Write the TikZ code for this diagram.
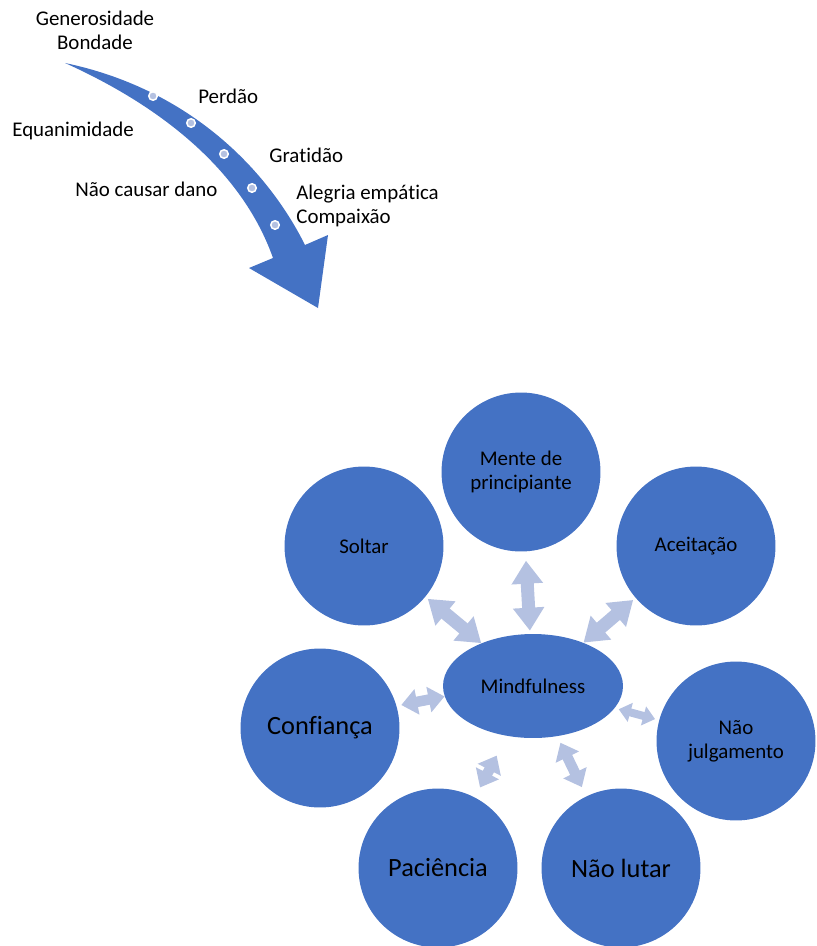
\documentclass[tikz,border=0pt]{standalone}
\usepackage{fontspec}
\setmainfont{Carlito}[Ligatures=NoCommon]
\usetikzlibrary{arrows.meta,shapes.geometric}
\definecolor{ablue}{RGB}{68,114,196}
\definecolor{alight}{RGB}{180,193,225}
\newcommand{\smalltxt}{\fontsize{11.9}{13.6}\selectfont}
\newcommand{\bigtxt}{\fontsize{15}{17}\selectfont}

\begin{document}
\begin{tikzpicture}[x=0.02cm,y=-0.02cm,
  virtue/.style={circle,fill=ablue,minimum size=3.18cm,inner sep=0pt,align=center,font=\smalltxt},
  bigvirtue/.style={virtue,font=\bigtxt},
  core/.style={ellipse,fill=ablue,minimum width=3.6cm,minimum height=2.08cm,inner sep=0pt,font=\smalltxt},
  quality/.style={inner sep=0pt,font=\smalltxt},
  biglink/.style={draw=alight,line width=0.26cm,{Triangle[length=0.46cm,width=0.6cm]}-{Triangle[length=0.46cm,width=0.6cm]}},
  midlink/.style={draw=alight,line width=0.21cm,{Triangle[length=0.32cm,width=0.5cm]}-{Triangle[length=0.32cm,width=0.5cm]}},
  smalllink/.style={draw=alight,line width=0.16cm,{Triangle[length=0.24cm,width=0.38cm]}-{Triangle[length=0.24cm,width=0.38cm]}}]
\useasboundingbox (0,0) rectangle (816,946);
%%%%%%%%%%%%%%%%%%%%%%%%%%%%%%%
% curved arrow with its qualities
%%%%%%%%%%%%%%%%%%%%%%%%%%%%%%%
\fill [ablue] (65,63) .. controls (185,88) and (265,165) .. (305,245) -- (328,235) -- (318,308)
  -- (249,268) -- (273,258) .. controls (243,173) and (165,108) .. (65,63) -- cycle;
\foreach \x/\y in {153/96, 191/123, 224/154, 252/188, 275/225}
  \filldraw [fill=alight, draw=white, line width=0.03cm] (\x,\y) circle [radius=0.085cm];
%
\node [quality, align=center] (gen) at (95,30) {Generosidade\\Bondade};
\node [quality, anchor=west] (perdao) at (198,96) {Perdão};
\node [quality, anchor=west] (equan) at (12,131) {Equanimidade};
\node [quality, anchor=west] (grat) at (269,155) {Gratidão};
\node [quality, anchor=west] (dano) at (75,189) {Não causar dano};
\node [quality, anchor=west, align=left] (alegria) at (296,206) {Alegria empática\\Compaixão};
%%%%%%%%%%%%%%%%%%%%%%%%%%%%%%%
% mindfulness and its attitudes
%%%%%%%%%%%%%%%%%%%%%%%%%%%%%%%
\node [core] (mind) at (533,686) {Mindfulness};
\node [virtue] (mente) at (521,472) {Mente de\\principiante};
\node [virtue] (soltar) at (364,546) {Soltar};
\node [virtue] (aceit) at (696,546) {Aceitação};
\node [virtue] (julg) at (736,741) {Não\\julgamento};
\node [bigvirtue] (confia) at (320,728) {Confiança};
\node [bigvirtue] (pacien) at (438,868) {Paciência};
\node [bigvirtue] (lutar) at (621,868) {Não lutar};
%
\draw [biglink, shorten <=0.06cm, shorten >=0.18cm] (mind) -- (mente);
\draw [biglink, shorten >=0.06cm] (mind) -- (soltar);
\draw [biglink, shorten >=0.06cm] (mind) -- (aceit);
\draw [midlink, shorten <=0.06cm, shorten >=0.06cm, transform canvas={yshift=0.14cm}] (mind) -- (confia);
\draw [smalllink, shorten <=0.08cm, shorten >=0.08cm] (mind) -- (julg);
\draw [midlink, shorten <=0.44cm, shorten >=0.22cm] (mind) -- (pacien);
\draw [midlink, shorten <=0.14cm, shorten >=0.2cm] (mind) -- (lutar);
%%%%%%%%%%%%%%%%%%%%%%%%%%%%%%%
\end{tikzpicture}
\end{document}
